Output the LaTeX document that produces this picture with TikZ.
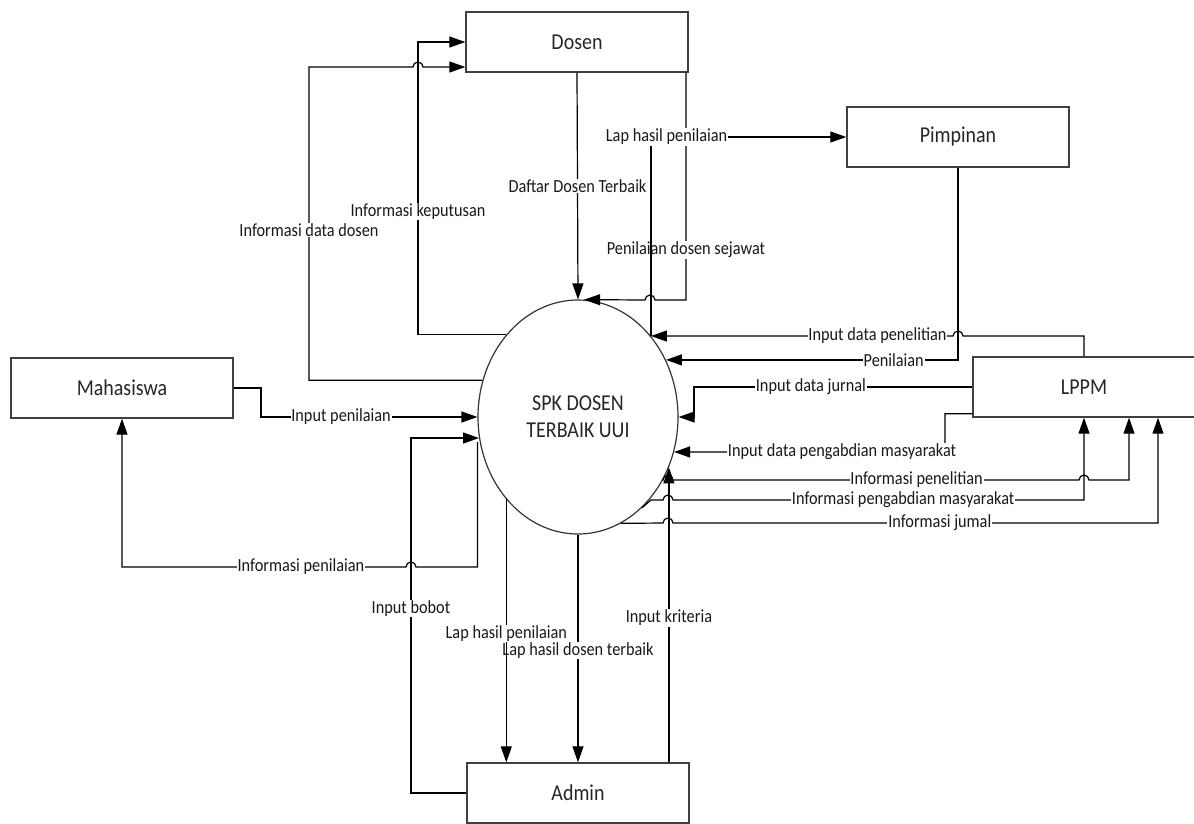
\documentclass[tikz,border=0pt]{standalone}
\usepackage{fontspec}
\setmainfont{Carlito}[FakeStretch=0.88]
\usetikzlibrary{shapes.geometric,arrows.meta,calc}

\begin{document}
\begin{tikzpicture}[x=1pt, y=-1pt,
  box/.style={draw=black!75, line width=1.4pt, minimum width=222pt, minimum height=60pt, inner sep=0pt, font=\fontsize{22.7}{27}\selectfont, text=black!85},
  proc/.style={ellipse, draw=black!80, line width=1.2pt, minimum width=200pt, minimum height=234pt, inner sep=0pt, align=center, font=\fontsize{22.7}{27}\selectfont, text=black!85},
  flow/.style={line width=1.2pt, -{Triangle[length=16pt,width=11pt]}},
  lbl/.style={fill=white, inner sep=0.8pt, font=\fontsize{18.5}{20}\selectfont, text=black!90}]
  \useasboundingbox (0,0) rectangle (1194,823);

  % Entities and process
  \node[box] (dosen) at (577,42) {Dosen};
  \node[box] (pimpinan) at (958,137) {Pimpinan};
  \node[box] (mhs) at (122,388) {Mahasiswa};
  \node[box] (lppm) at (1084,387) {LPPM};
  \node[box] (admin) at (578,793) {Admin};
  \node[proc] (spk) at (578,417) {SPK DOSEN\\TERBAIK UUI};

  % Dosen <-> SPK
  \draw[flow] (dosen.south) -- node[lbl, pos=0.5] (lDaftar) {Daftar Dosen Terbaik} (spk.north);
  \draw[flow] (dosen.south -| 686,0) -- node[lbl, pos=0.78] (lSejawat) {Penilaian dosen sejawat} (686,300) -- (655,300) arc[start angle=0, end angle=-180, radius=5] -- (spk.87);
  \draw[flow] (spk.48) |- node[lbl, pos=0.54] (lLapPimp) {Lap hasil penilaian} (pimpinan.west);
  \draw[flow] (spk.131) -| node[lbl, pos=0.71] (lKeputusan) {Informasi keputusan} (418,42) -- (dosen.west);
  \draw[flow] (spk.159) -| node[lbl, pos=0.74] (lDataDosen) {Informasi data dosen} (309,67) -- (413,67) arc[start angle=180, end angle=360, radius=5] -- (dosen.west |- 0,67);

  % Pimpinan, LPPM -> SPK
  \draw[flow] (pimpinan.south) |- node[lbl, pos=0.61] (lPenilaian) {Penilaian} (spk.33);
  \draw[flow] (lppm.north) |- (963,336) arc[start angle=0, end angle=-180, radius=5] -- node[lbl, pos=0.25] (lInPenelitian) {Input data penelitian} (spk.48);
  \draw[flow] (lppm.west) -| node[lbl, pos=0.29] (lInJurnal) {Input data jurnal} (spk.east -| 694,0) -- (spk.east);
  \draw[flow] ($(lppm.south west)+(0,-4)$) -| (945,452) -- node[lbl, pos=0.38] (lInPengabdian) {Input data pengabdian masyarakat} (spk.-20);

  % SPK -> LPPM
  \draw[flow] (spk.-37) -- (663,480) arc[start angle=180, end angle=360, radius=5] -- node[lbl, pos=0.6] (lInfoPenelitian) {Informasi penelitian} (1079,480) arc[start angle=180, end angle=360, radius=5] -- (1129,480) -- (lppm.south -| 1129,0);
  \draw[flow] (spk.-55) -- (651,500) -- (663,500) arc[start angle=180, end angle=360, radius=5] -- node[lbl, pos=0.56] (lInfoPengabdian) {Informasi pengabdian masyarakat} (lppm.south |- 0,500) -- (lppm.south);
  \draw[flow] (spk.-68) -- (663,523) arc[start angle=180, end angle=360, radius=5] -- node[lbl, pos=0.55] (lInfoJurnal) {Informasi jumal} (1158,523) -- (lppm.south -| 1158,0);

  % Admin <-> SPK
  \draw[flow] (admin.north -| spk.-29) -- node[lbl, pos=0.49] (lKriteria) {Input kriteria} (spk.-29);
  \draw[flow] (spk.south) -- node[lbl, pos=0.51] (lLapTerbaik) {Lap hasil dosen terbaik} (admin.north);
  \draw[flow] (spk.-131) -- node[lbl, pos=0.51] (lLapAdmin) {Lap hasil penilaian} (spk.-131 |- admin.north);
  \draw[flow] (admin.west) -| node[lbl, pos=0.76] (lBobot) {Input bobot} (spk.-168 -| 411,0) -- (spk.-168);

  % Mahasiswa <-> SPK
  \draw[flow] (mhs.east) -| (spk.west -| 261,0) -- node[lbl, pos=0.37] (lInPenilaian) {Input penilaian} (spk.west);
  \draw[flow] ($(spk.west)+(0,25)$) |- (416,567) arc[start angle=0, end angle=-180, radius=5] -- node[lbl, pos=0.37] (lInfoPenilaian) {Informasi penilaian} (mhs.south |- 0,567) -- (mhs.south);
\end{tikzpicture}
\end{document}
